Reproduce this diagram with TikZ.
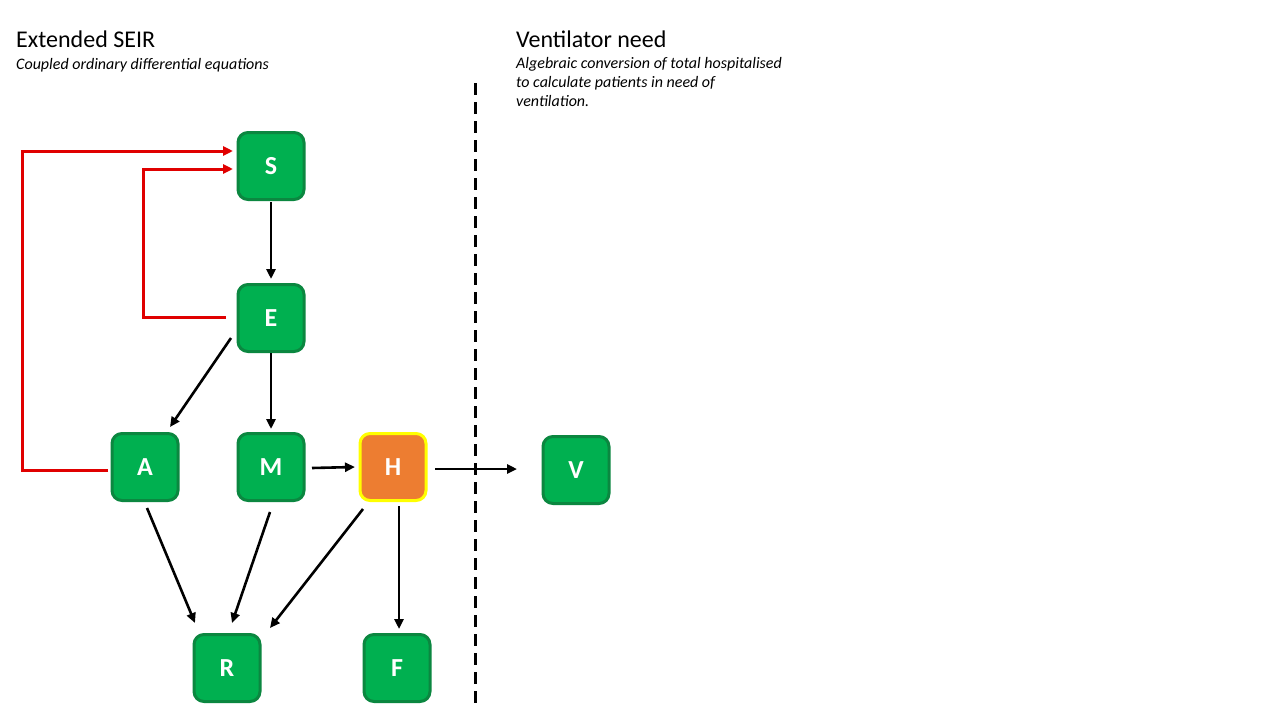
\documentclass[tikz,border=0pt]{standalone}
\usepackage{fontspec}
\setmainfont{Carlito}
\usetikzlibrary{arrows.meta,calc}
\definecolor{boxgreen}{HTML}{00B050}
\definecolor{boxedge}{HTML}{0B8740}
\definecolor{hfill}{HTML}{ED7D31}
\definecolor{hedge}{HTML}{FFFF00}
\definecolor{redline}{HTML}{E00000}
\begin{document}
\begin{tikzpicture}[x=1pt,y=-1pt,
  comp/.style={draw=boxedge,fill=boxgreen,line width=3pt,rounded corners=10pt,
    minimum width=66pt,minimum height=67pt,inner sep=0pt,text=white,
    font=\fontsize{26}{30}\selectfont\bfseries},
  hosp/.style={comp,draw=hedge,fill=hfill},
  flow/.style={line width=2.6pt,-{Triangle[length=10pt,width=9pt]}},
  feedback/.style={draw=redline,line width=3pt,-{Triangle[length=10pt,width=9pt]}},
  heading/.style={anchor=base west,inner sep=0pt,font=\fontsize{24}{28}\selectfont},
  subhead/.style={inner sep=0pt,font=\fontsize{16}{19.2}\selectfont\itshape}]
\useasboundingbox (0,0) rectangle (1280,720);
\fill[white] (0,0) rectangle (1280,720);
% titles
\node[heading] (t1) at (16,47) {Extended SEIR};
\node[subhead,anchor=base west] (s1) at (16,69) {Coupled ordinary differential equations};
\node[heading] (t2) at (516,47) {Ventilator need};
\node[subhead,anchor=north west,align=left] (s2) at (516,57) {Algebraic conversion of total hospitalised\\to calculate patients in need of\\ventilation.};
% divider
\coordinate (d1) at (475,83);
\coordinate (d2) at (475,703);
\draw[line width=3pt,dash pattern=on 12pt off 7pt] (d1) -- (d2);
% compartments
\node[comp] (S) at (271,166) {S};
\node[comp] (E) at (271,318) {E};
\node[comp] (A) at (145,467) {A};
\node[comp] (M) at (271,467) {M};
\node[hosp] (H) at (393,467) {H};
\node[comp] (V) at (576,470) {V};
\node[comp] (R) at (227,668) {R};
\node[comp] (F) at (397,668) {F};
% flows
\draw[flow] ($(S)+(0,36)$) -- ($(E)+(0,-39)$);
\draw[flow] ($(E)+(-40,20)$) -- ($(A)+(25,-40)$);
\draw[flow] ($(E)+(0,35)$) -- ($(M)+(0,-38)$);
\draw[flow] ($(A)+(2,41)$) -- ($(R)+(-32,-45)$);
\draw[flow] ($(M)+(-1,45)$) -- ($(R)+(5,-45)$);
\draw[flow] ($(H)+(-30,42)$) -- ($(R)+(43,-40)$);
\draw[flow] ($(H)+(6,39)$) -- ($(F)+(2,-39)$);
\draw[flow] ($(M)+(41,1)$) -- ($(H)+(-38,0)$);
\draw[flow] ($(H)+(42,2)$) -- ($(V)+(-59,-1)$);
% feedback
\draw[feedback] ($(A)+(-37,3)$) -- ++(-86,0) |- ($(S)+(-38,-15)$);
\draw[feedback] ($(E)+(-45,-1)$) -- ++(-83,0) |- ($(S)+(-38,3)$);
\end{tikzpicture}
\end{document}
